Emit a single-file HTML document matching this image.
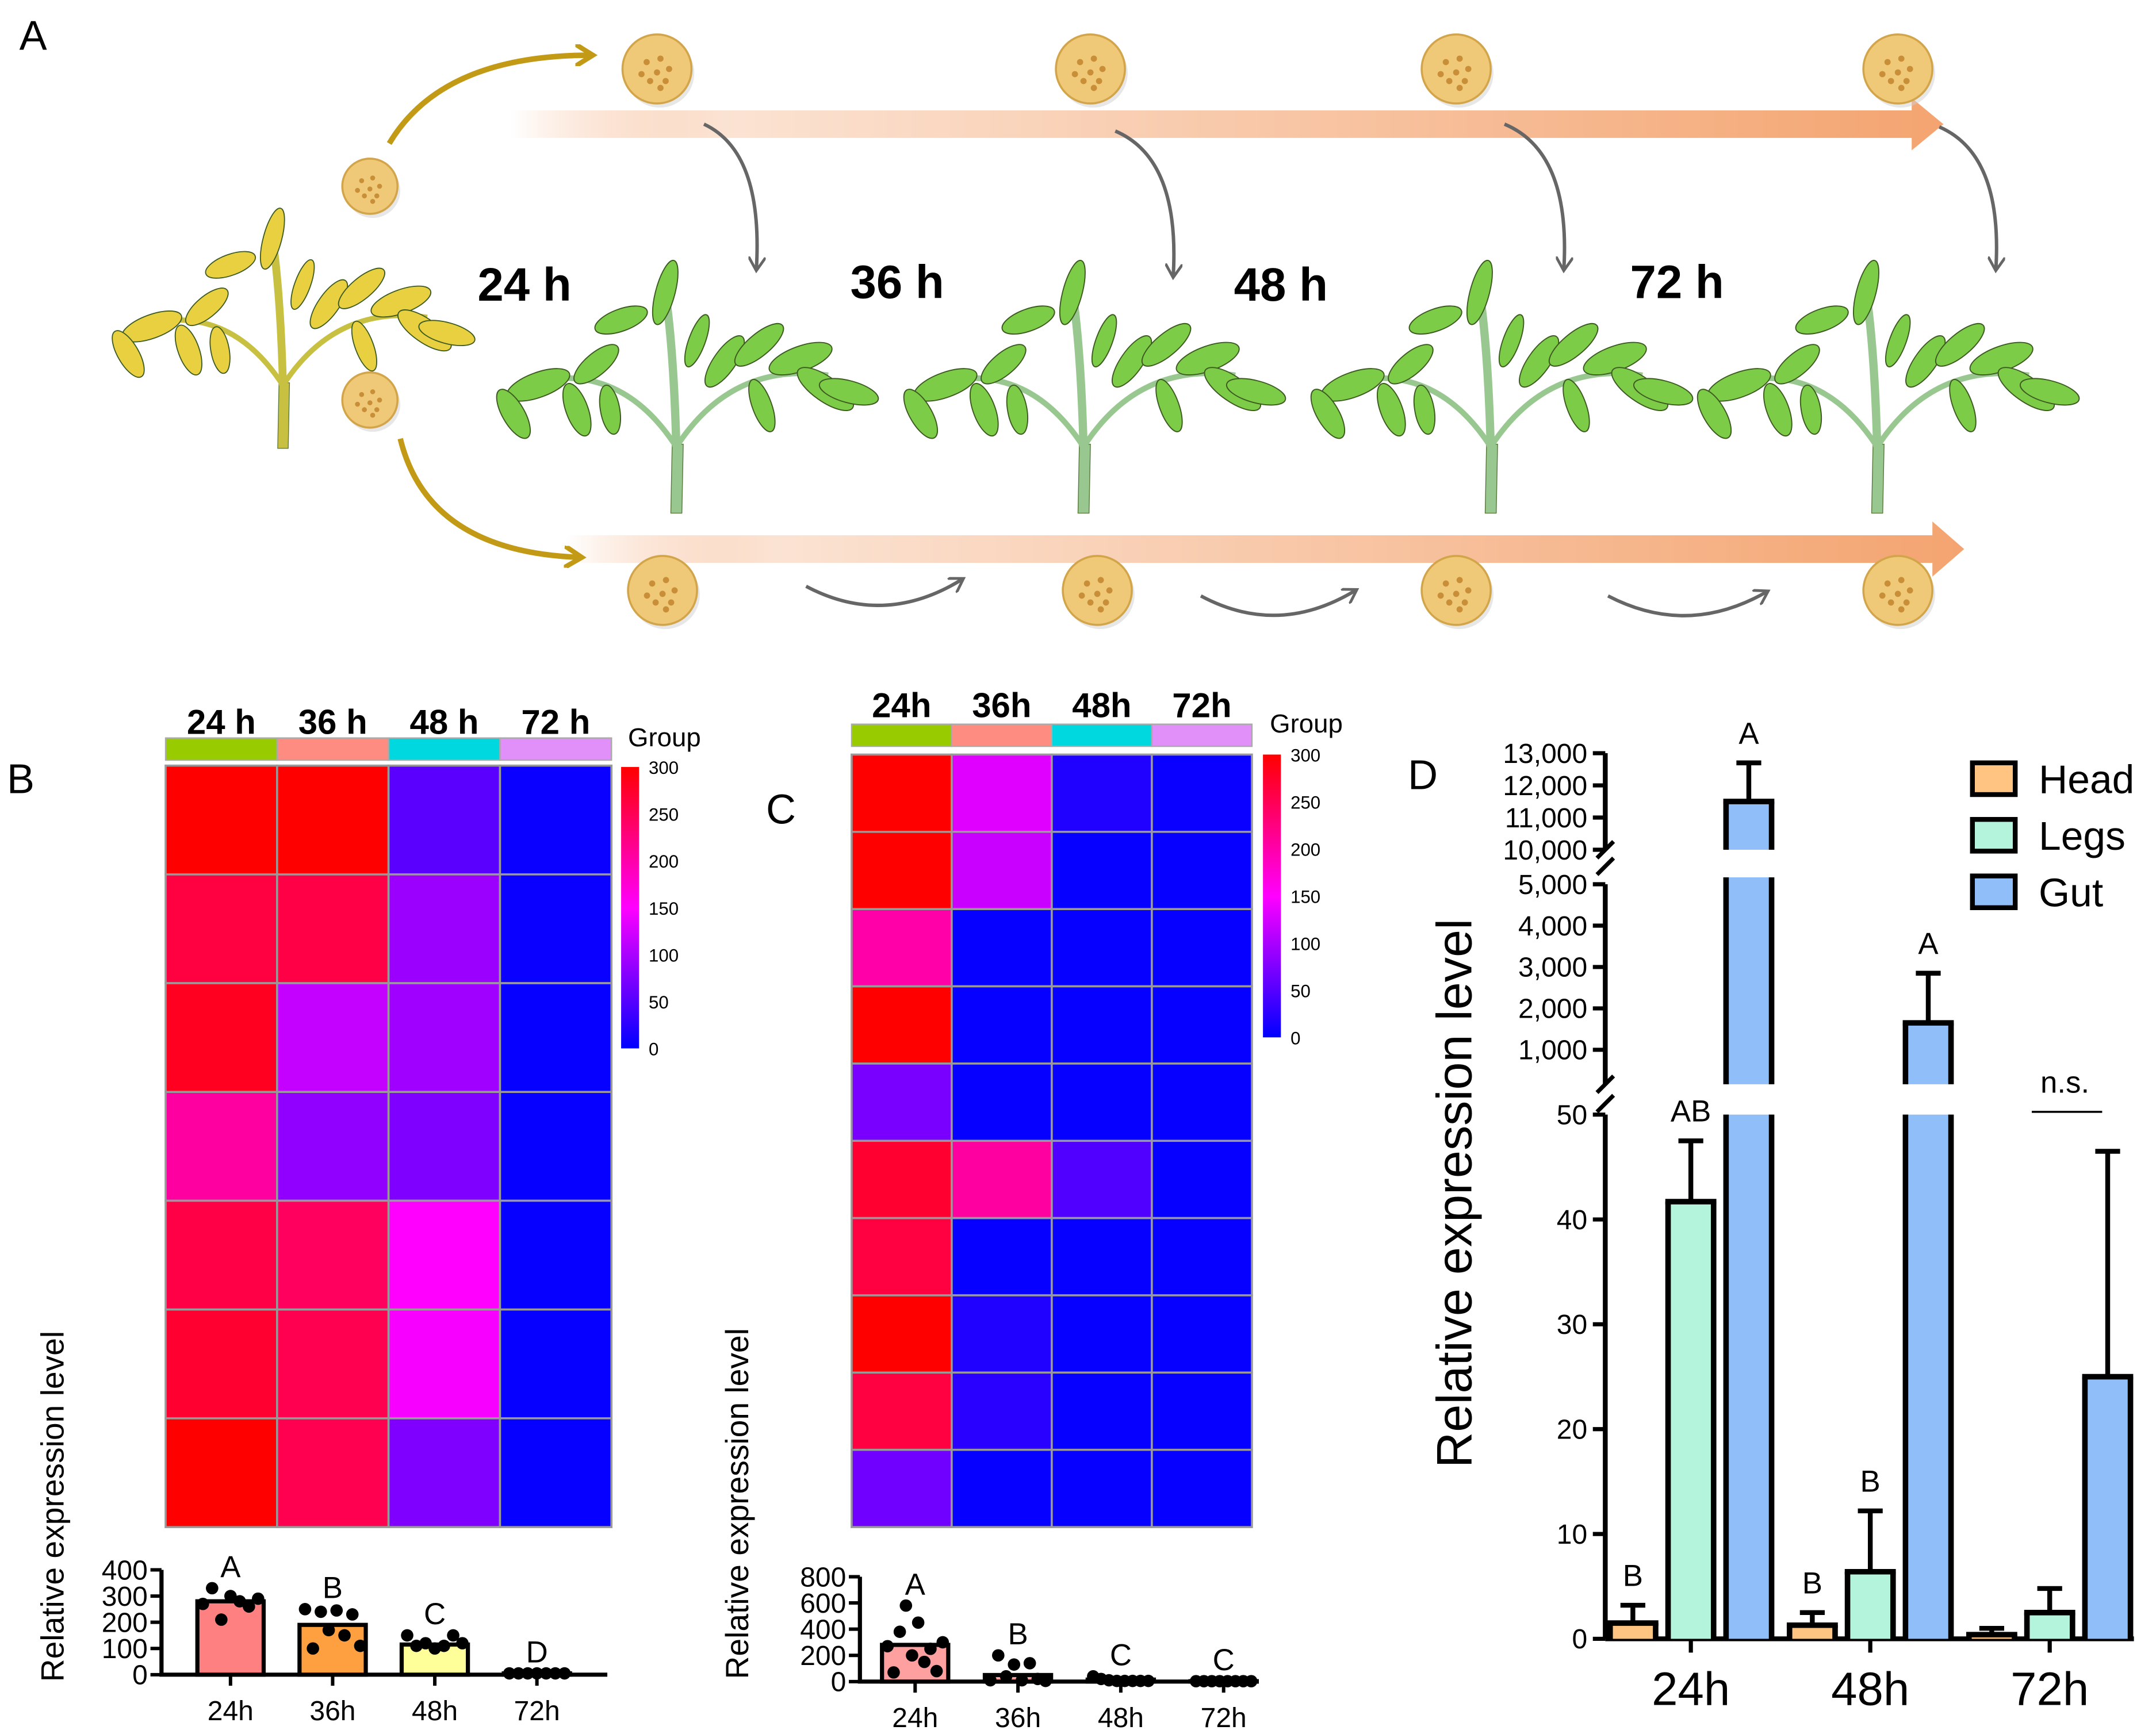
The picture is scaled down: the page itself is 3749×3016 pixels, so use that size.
<!DOCTYPE html>
<html><head><meta charset="utf-8">
<style>
html,body{margin:0;padding:0;background:#fff;}
svg{display:block;}
text{font-family:"Liberation Sans","DejaVu Sans",sans-serif;}
</style></head>
<body>
<svg id="fig" xmlns="http://www.w3.org/2000/svg" width="3749" height="3016" viewBox="0 0 1562 1257" preserveAspectRatio="none">
<defs>
<linearGradient id="gArrow" x1="0" x2="1" y1="0" y2="0">
<stop offset="0" stop-color="#f4a878" stop-opacity="0"/>
<stop offset="0.15" stop-color="#fbe3d3"/>
<stop offset="1" stop-color="#f4a470"/>
</linearGradient>
<linearGradient id="cbar" x1="0" x2="0" y1="0" y2="1">
<stop offset="0" stop-color="#ff0000"/>
<stop offset="0.5" stop-color="#ff00ff"/>
<stop offset="1" stop-color="#0000ff"/>
</linearGradient>
<marker id="mGold" viewBox="0 0 10 10" refX="7" refY="5" markerWidth="4" markerHeight="4" orient="auto"><path d="M0,0 L8,5 L0,10" fill="none" stroke="#c39a16" stroke-width="2.2"/></marker>
<marker id="mGray" viewBox="0 0 10 10" refX="7" refY="5" markerWidth="5" markerHeight="5" orient="auto"><path d="M0,0 L8,5 L0,10" fill="none" stroke="#666" stroke-width="1.6"/></marker>
</defs>
<g id="panelA"></g>
<g id="panelB"></g>
<g id="panelC"></g>
<g id="panelD"></g>
</svg>
<script>
// ---------- DATA ----------
const timeLabels = ["24 h","36 h","48 h","72 h"];
const timeLabelsC = ["24h","36h","48h","72h"];
const groupColors = ["#99cc00","#ff8c80","#00d8e0","#e090f8"];
const heatB = [
 [300,300,53,6],
 [262,258,91,6],
 [281,115,94,3],
 [206,85,75,3],
 [258,244,150,3],
 [272,253,145,3],
 [300,253,75,3]
];
const heatC = [
 [300,132,19,6],
 [300,118,3,3],
 [201,3,3,3],
 [300,3,3,3],
 [71,3,3,3],
 [272,206,47,3],
 [262,3,3,3],
 [300,19,3,3],
 [262,24,3,3],
 [66,3,3,3]
];
const cbTicks = [300,250,200,150,100,50,0];
const barCatsB = ["24h","36h","48h","72h"];
const barValsB = [280,190,115,5];
const barLettersB = ["A","B","C","D"];
const dotsB = [[270,330,210,300,280,260,290],[250,100,240,170,245,150,230,110],[150,110,120,100,110,150,120],[5,5,5,5,5,5,5]];
const barTicksB = [0,100,200,300,400];
const barValsC = [280,50,15,3];
const barLettersC = ["A","B","C","C"];
const dotsC = [[270,70,380,580,200,450,150,250,80,300],[10,200,40,130,10,140,20,5],[40,20,10,5,5,5,5,5],[3,3,3,3,3,3,3,3]];
const barTicksC = [0,200,400,600,800];
const dCats = ["24h","48h","72h"];
const dSeries = ["Head","Legs","Gut"];
const dColors = ["#ffc482","#b4f3dc","#90bef8"];
const dHead = [1.5,1.3,0.4];
const dHeadErr = [3.2,2.5,1.0];
const dLegs = [41.7,6.4,2.5];
const dLegsErr = [47.5,12.2,4.8];
const dGut = [11500,1650,25];
const dGutErr = [12700,2850,46.5];
const dLetters = [["B","AB","A"],["B","B","A"],["","",""]];
const dTicksLow = [0,10,20,30,40,50];
const dTicksMid = [1000,2000,3000,4000,5000];
const dTicksTop = [10000,11000,12000,13000];

// ---------- HELPERS ----------
const NS="http://www.w3.org/2000/svg";
function mk(parent,tag,attrs,txt){
  const e=document.createElementNS(NS,tag);
  for(const k in attrs) e.setAttribute(k,attrs[k]);
  if(txt!==undefined) e.textContent=txt;
  parent.appendChild(e); return e;
}
function heatColor(v){
  v=Math.max(0,Math.min(300,v));
  let r,b;
  if(v<=150){ r=Math.round(v/150*255); b=255; } else { r=255; b=Math.round((300-v)/150*255); }
  return `rgb(${r},0,${b})`;
}
function fmt(n){return n.toLocaleString('en-US');}

// ---------- PANEL A ----------
const A=document.getElementById('panelA');
let t=mk(A,'text',{x:14,y:36,'font-size':30},'A');


let bar1=mk(A,'path',{d:'M370,80 L1385,80 L1385,71 L1408,90 L1385,109 L1385,100 L370,100 Z',fill:'url(#gArrow)'});


let bar2=mk(A,'path',{d:'M410,388 L1400,388 L1400,378 L1423,398 L1400,418 L1400,408 L410,408 Z',fill:'url(#gArrow)'});


let ga=mk(A,'path',{d:'M282,104 Q320,40 428,40',fill:'none',stroke:'#c39a16','stroke-width':4,'marker-end':'url(#mGold)'});


let gb=mk(A,'path',{d:'M290,318 Q310,400 420,404',fill:'none',stroke:'#c39a16','stroke-width':4,'marker-end':'url(#mGold)'});


const grayDown=[[510,90,548,195],[808,95,850,200],[1090,90,1133,195],[1405,92,1446,195]];
grayDown.forEach(a=>{
  const p=mk(A,'path',{d:`M${a[0]},${a[1]} Q${a[2]+5},${a[1]+20} ${a[2]},${a[3]}`,fill:'none',stroke:'#666','stroke-width':2.5,'marker-end':'url(#mGray)'});
  
  
});
const grayRight=[[584,425,697,420],[870,432,982,428],[1165,432,1280,429]];
grayRight.forEach(a=>{
  const p=mk(A,'path',{d:`M${a[0]},${a[1]} Q${(a[0]+a[2])/2},${a[1]+30} ${a[2]},${a[3]}`,fill:'none',stroke:'#666','stroke-width':2.5,'marker-end':'url(#mGray)'});
  
  
});
function seed(cx,cy,r){
  const g=mk(A,'g',{});
  
  
  mk(g,'circle',{cx:cx+2,cy:cy+3,r:r,fill:'#cfcfcf',opacity:0.5});
  mk(g,'circle',{cx:cx,cy:cy,r:r,fill:'#efc978',stroke:'#d3a54a','stroke-width':1.5});
  const off=[[-.3,-.2],[.1,-.3],[.35,0],[0,.1],[-.2,.35],[.25,.35],[.1,.55],[-.45,.15]];
  off.forEach(o=>mk(g,'circle',{cx:cx+o[0]*r,cy:cy+o[1]*r,r:r*0.09,fill:'#c98f38'}));
}
[[476,50,25],[790,50,25],[1055,50,25],[1375,50,25],[480,428,25],[795,428,25],[1055,428,25],[1375,428,25],[268,135,20],[268,290,20]].forEach(s=>seed(s[0],s[1],s[2]));
function plant(cx,base,sc,leafCol,stemCol,name){
  const g=mk(A,'g',{transform:`translate(${cx},${base}) scale(${sc})`});
  
  
  mk(g,'path',{d:'M-4,0 L4,0 L5,-50 L-3,-50 Z',fill:stemCol,stroke:'#5a7a40','stroke-width':0.6});
  mk(g,'path',{d:'M0,-48 Q-2,-120 -8,-160',fill:'none',stroke:stemCol,'stroke-width':6});
  mk(g,'path',{d:'M0,-48 Q-40,-110 -105,-95',fill:'none',stroke:stemCol,'stroke-width':4});
  mk(g,'path',{d:'M0,-48 Q40,-110 110,-100',fill:'none',stroke:stemCol,'stroke-width':4});
  const leaves=[[-100,-93,-20,24,9],[-72,-75,70,20,8],[-48,-75,80,18,7],[-58,-108,-40,20,8],[-40,-140,-20,20,8],
    [-8,-160,-75,24,7],[15,-125,-70,20,6],[35,-110,-55,22,8],[60,-122,-40,22,8],[90,-112,-20,24,9],
    [108,-90,35,24,9],[125,-88,15,22,8],[62,-78,70,20,7],[-118,-72,60,20,8]];
  leaves.forEach(l=>mk(g,'ellipse',{cx:l[0],cy:l[1],rx:l[3],ry:l[4],transform:`rotate(${l[2]} ${l[0]} ${l[1]})`,fill:leafCol,stroke:'#3d5a20','stroke-width':0.8}));
}
plant(205,325,0.95,'#e8d040','#c8c040','yellow-infested-plant');
[490,785,1080,1360].forEach((x,i)=>plant(x,372,1.0,'#7ccc48','#98c890','plant-'+timeLabels[i].replace(' ','')));
const aLab=[[380,218],[650,216],[928,218],[1215,216]];
aLab.forEach((p,i)=>{
  const e=mk(A,'text',{x:p[0],y:p[1],'font-size':34,'font-weight':'bold','text-anchor':'middle'},timeLabels[i]);
  
  
});

// ---------- HEATMAP + BARS ----------
function heatPanel(P,opt){
  const L=mk(P,'text',{x:opt.letter[0],y:opt.letter[1],'font-size':30},opt.letterTxt);
  
  
  const rows=opt.data.length, cols=4;
  const cw=(opt.x1-opt.x0)/cols, rh=(opt.y1-opt.y0)/rows;
  for(let j=0;j<cols;j++){
    const lab=mk(P,'text',{x:opt.x0+cw*(j+0.5),y:opt.labY,'font-size':25,'font-weight':'bold','text-anchor':'middle'},opt.labels[j]);
    
    
    const gr=mk(P,'rect',{x:opt.x0+cw*j,y:opt.gy,width:cw,height:16,fill:groupColors[j],stroke:'#aaa','stroke-width':1});
    
    
  }
  for(let i=0;i<rows;i++)for(let j=0;j<cols;j++){
    const c=mk(P,'rect',{x:opt.x0+cw*j,y:opt.y0+rh*i,width:cw,height:rh,fill:heatColor(opt.data[i][j]),stroke:'#999','stroke-width':1.5});
    
    
  }
  const cb=mk(P,'rect',{x:opt.cbx,y:opt.cby0,width:13,height:opt.cby1-opt.cby0,fill:'url(#cbar)'});
  
  
  cbTicks.forEach(v=>{
    const y=opt.cby1-(v/300)*(opt.cby1-opt.cby0);
    const e=mk(P,'text',{x:opt.cbx+20,y:y+5,'font-size':13},String(v));
    
    
  });
  const gt=mk(P,'text',{x:opt.cbx+5,y:opt.gy+6,'font-size':19},'Group');
  
  
  const b=opt.bar;
  const ys=v=>b.y0-(v/b.max)*(b.y0-b.ytop);
  const ax=mk(P,'path',{d:`M${b.ax},${b.ytop} L${b.ax},${b.y0} L${b.axEnd},${b.y0}`,fill:'none',stroke:'#000','stroke-width':3});
  
  
  b.ticks.forEach(v=>{
    mk(P,'line',{x1:b.ax-8,x2:b.ax,y1:ys(v),y2:ys(v),stroke:'#000','stroke-width':2.5});
    const e=mk(P,'text',{x:b.ax-10,y:ys(v)+7,'font-size':20,'text-anchor':'end'},String(v));
    
    
  });
  b.vals.forEach((v,i)=>{
    const cx=b.cx0+i*b.step;
    const r=mk(P,'rect',{x:cx-b.w/2,y:ys(v),width:b.w,height:b.y0-ys(v),fill:b.colors[i],stroke:'#000','stroke-width':3});
    
    
    const dts=b.dots[i];
    dts.forEach((d,k)=>{
      const dx=cx-b.w/2+4+(k/(dts.length-1||1))*(b.w-8);
      const dot=mk(P,'circle',{cx:dx,cy:ys(d),r:4.5,fill:'#000'});
      
      
    });
    mk(P,'line',{x1:cx,x2:cx,y1:b.y0,y2:b.y0+8,stroke:'#000','stroke-width':2.5});
    const xl=mk(P,'text',{x:cx,y:b.y0+33,'font-size':20,'text-anchor':'middle'},barCatsB[i]);
    
    
    const hi=Math.max(v,...dts);
    const lt=mk(P,'text',{x:cx,y:ys(hi)-8,'font-size':22,'text-anchor':'middle'},b.letters[i]);
    
    
  });
  const yt=mk(P,'text',{x:0,y:0,'font-size':23,'text-anchor':'middle',transform:`translate(${b.titleX},${b.titleY}) rotate(-90)`},'Relative expression level');
  
  
}
heatPanel(document.getElementById('panelB'),{letter:[5,575],letterTxt:'B',data:heatB,labels:timeLabels,x0:120,x1:443,y0:555,y1:1107,labY:532,gy:535,cbx:450,cby0:556,cby1:760,
 bar:{ax:117,axEnd:440,y0:1214,ytop:1138,max:400,ticks:barTicksB,vals:barValsB,dots:dotsB,letters:barLettersB,cx0:167,step:74,w:48,colors:['#ff8080','#ffa040','#ffff99','#ffffff'],titleX:46,titleY:1092}});
heatPanel(document.getElementById('panelC'),{letter:[555,597],letterTxt:'C',data:heatC,labels:timeLabelsC,x0:617,x1:907,y0:547,y1:1107,labY:520,gy:525,cbx:915,cby0:547,cby1:752,
 bar:{ax:623,axEnd:912,y0:1219,ytop:1143,max:800,ticks:barTicksC,vals:barValsC,dots:dotsC,letters:barLettersC,cx0:663,step:74.5,w:48,colors:['#ffa0a0','#ffa0a0','#ffa0a0','#ffa0a0'],titleX:542,titleY:1090}});

// ---------- PANEL D ----------
const D=document.getElementById('panelD');
let dl=mk(D,'text',{x:1020,y:572,'font-size':30},'D');


const AX=1163, Y0=1188;
const yLow=v=>Y0-v*7.6;
const yMid=v=>761-(v-1000)*0.03;
const yTop=v=>616-(v-10000)*0.02333;
function yD(v){ if(v<=50) return yLow(v); if(v<10000) return Math.max(yMid(v),641); return yTop(v); }
[[yLow(0),808],[786,641],[616,546]].forEach(s=>{
  const l=mk(D,'line',{x1:AX,x2:AX,y1:s[0],y2:s[1],stroke:'#000','stroke-width':3.5});
  
  
});
[[800,792],[628,622]].forEach(s=>mk(D,'line',{x1:AX-6,x2:AX+6,y1:s[0]+6,y2:s[0]-6,stroke:'#000','stroke-width':3}));
[[788],[618]].forEach(s=>mk(D,'line',{x1:AX-6,x2:AX+6,y1:s[0]+4,y2:s[0]-8,stroke:'#000','stroke-width':3}));
const base=mk(D,'line',{x1:AX,x2:1546,y1:Y0,y2:Y0,stroke:'#000','stroke-width':3.5});


function dTick(v,y){
  mk(D,'line',{x1:AX-9,x2:AX,y1:y,y2:y,stroke:'#000','stroke-width':3});
  const e=mk(D,'text',{x:AX-13,y:y+7,'font-size':20,'text-anchor':'end'},fmt(v));
  
  
}
dTicksLow.forEach(v=>dTick(v,yLow(v)));
dTicksMid.forEach(v=>dTick(v,yMid(v)));
dTicksTop.forEach(v=>dTick(v,yTop(v)));
const groupX=[1225,1355,1485];
const offs=[-42,0,42], bw=33;
const sVals=[dHead,dLegs,dGut], sErr=[dHeadErr,dLegsErr,dGutErr];
dCats.forEach((c,gi)=>{
  mk(D,'line',{x1:groupX[gi],x2:groupX[gi],y1:Y0,y2:Y0+10,stroke:'#000','stroke-width':3});
  const xl=mk(D,'text',{x:groupX[gi],y:1236,'font-size':34,'text-anchor':'middle'},c);
  
  
  for(let s=0;s<3;s++){
    const v=sVals[s][gi], err=sErr[s][gi];
    const cx=groupX[gi]+offs[s];
    const x=cx-bw/2;
    const ye=yD(err), yv=yD(v);
    mk(D,'line',{x1:cx,x2:cx,y1:yv,y2:ye,stroke:'#000','stroke-width':3.5});
    mk(D,'line',{x1:cx-9,x2:cx+9,y1:ye,y2:ye,stroke:'#000','stroke-width':3.5});
    const segs=[];
    if(v<=50) segs.push([Y0,yLow(v),true]);
    else {
      segs.push([Y0,808,false]);
      if(v<10000) segs.push([786,Math.max(yMid(v),641),true]);
      else { segs.push([786,636,false]); segs.push([616,yTop(v),true]); }
    }
    segs.forEach(sg=>{
      const r=mk(D,'rect',{x:x,y:sg[1],width:bw,height:sg[0]-sg[1],fill:dColors[s],stroke:'none'});
      
      
      mk(D,'line',{x1:x,x2:x,y1:sg[0],y2:sg[1],stroke:'#000','stroke-width':4});
      mk(D,'line',{x1:x+bw,x2:x+bw,y1:sg[0],y2:sg[1],stroke:'#000','stroke-width':4});
      if(sg[2]) mk(D,'line',{x1:x-2,x2:x+bw+2,y1:sg[1],y2:sg[1],stroke:'#000','stroke-width':4});
    });
    const lt=dLetters[gi][s];
    if(lt){
      const e=mk(D,'text',{x:cx,y:ye-14,'font-size':22,'text-anchor':'middle'},lt);
      
      
    }
  }
});
const ns=mk(D,'text',{x:1496,y:792,'font-size':22,'text-anchor':'middle'},'n.s.');


mk(D,'line',{x1:1472,x2:1523,y1:806,y2:806,stroke:'#000','stroke-width':1.5});
const dyt=mk(D,'text',{x:0,y:0,'font-size':36,'text-anchor':'middle',transform:'translate(1066,865) rotate(-90)'},'Relative expression level');


dSeries.forEach((s,i)=>{
  const y=553+i*41;
  const r=mk(D,'rect',{x:1429,y:y,width:31,height:23,fill:dColors[i],stroke:'#000','stroke-width':3.5});
  
  
  const e=mk(D,'text',{x:1477,y:y+22,'font-size':29},s);
  
  
});
</script>
</body></html>
